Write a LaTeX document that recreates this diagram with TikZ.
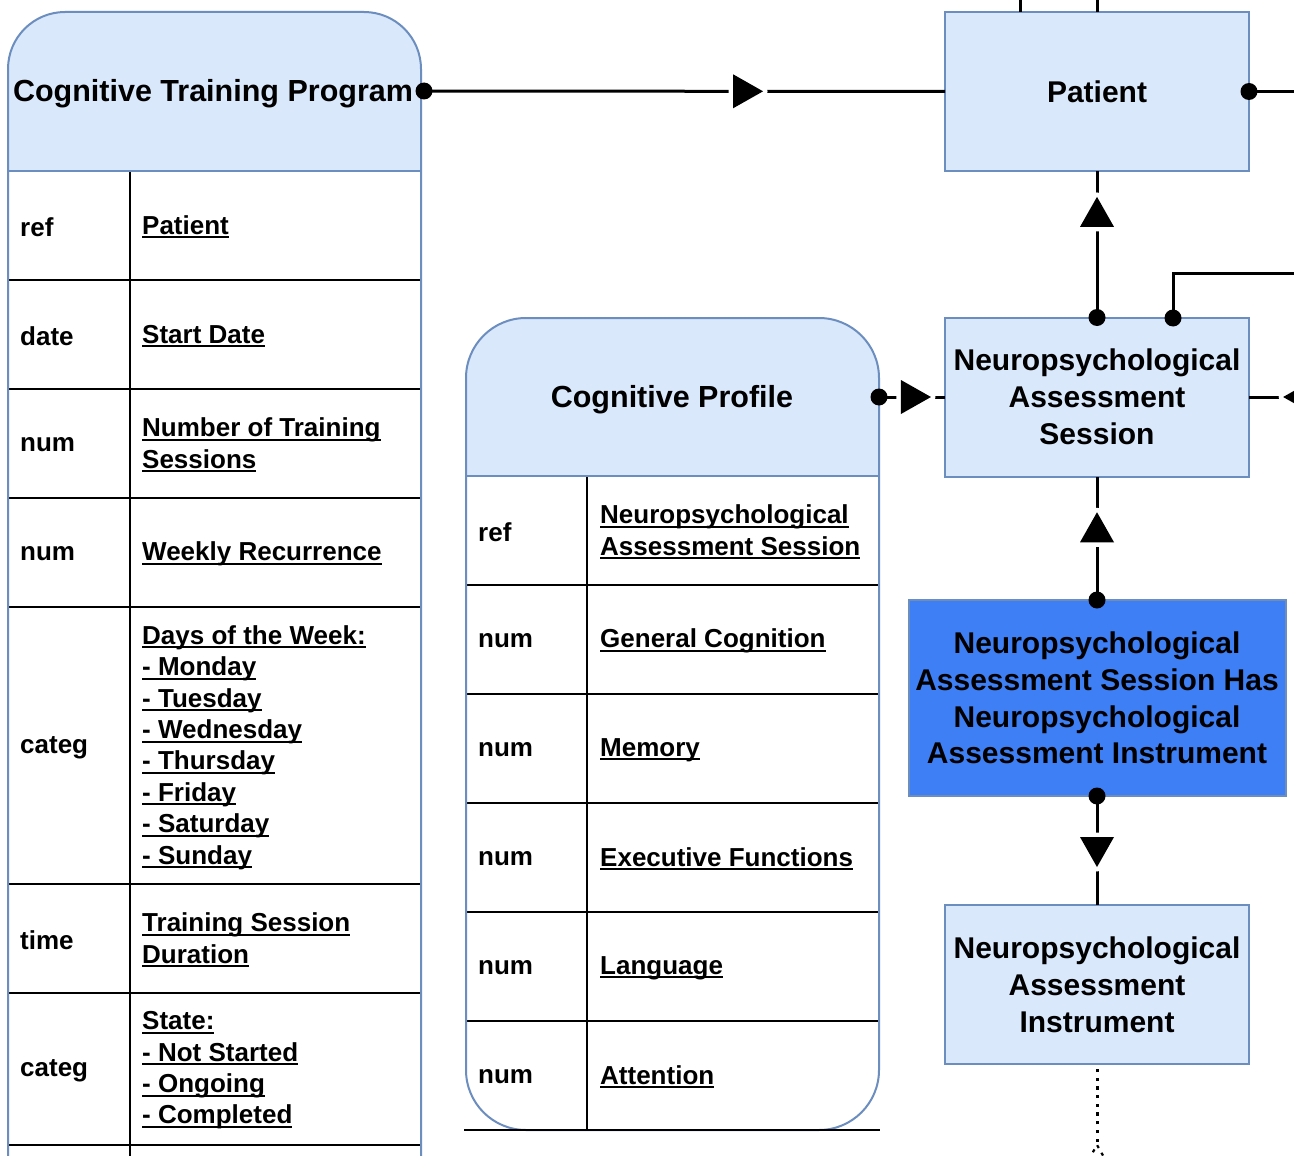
\documentclass[tikz,border=0pt]{standalone}
\usepackage{fontspec}
\setmainfont{Liberation Sans}
\usetikzlibrary{decorations.markings}
\definecolor{hdrfill}{HTML}{DAE8FC}
\definecolor{hdrline}{HTML}{6C8EBF}
\definecolor{bluefill}{HTML}{3E7FF5}
\newsavebox\ulbox
\newcommand{\ulx}[1]{\sbox\ulbox{#1}\rlap{\rule[-4pt]{\wd\ulbox}{2pt}}\usebox\ulbox}
\tikzset{
  ent/.style={draw=hdrline, fill=hdrfill, line width=2pt, inner sep=0pt, outer sep=0pt,
    minimum width=304pt, minimum height=159pt, align=center,
    font=\bfseries\fontsize{30}{36.8}\selectfont, text=black},
  ttl/.style={font=\bfseries\fontsize{30.5}{36.8}\selectfont, align=center, text=black, inner sep=0pt},
  keycell/.style={font=\bfseries\fontsize{26}{31.4}\selectfont, anchor=west, inner sep=0pt, text=black},
  valcell/.style={font=\bfseries\fontsize{26}{31.4}\selectfont, anchor=west, align=left, inner sep=0pt, text=black},
  tblline/.style={black, line width=1.6pt},
  border/.style={draw=hdrline, line width=2pt},
  conn/.style={black, line width=3pt},
  dotline/.style={black, line width=3pt, dash pattern=on 3.2pt off 5.5pt},
  tri/.style={postaction={decorate, decoration={markings, mark=at position #1 with {
     \draw[white, line width=9pt, line join=round] (-15,-17) -- (15,0) -- (-15,17) -- cycle;
     \fill[black] (-15,-17) -- (15,0) -- (-15,17) -- cycle;}}}},
  opentri/.style={postaction={decorate, decoration={markings, mark=at position #1 with {
     \draw[white, line width=8pt, line join=round] (-15,-17) -- (15,0) -- (-15,17) -- cycle;
     \draw[black, fill=white, line width=2.2pt] (-15,-17) -- (15,0) -- (-15,17) -- cycle;}}}},
}
\begin{document}
\begin{tikzpicture}[x=1pt, y=-1pt]
\useasboundingbox (0,0) rectangle (1294,1156);
\clip (0,0) rectangle (1294,1156);
\fill[white] (0,0) rectangle (1294,1156);

% ---------- Cognitive Training Program table ----------
\fill[white] (8,171) rectangle (421,1300);
\fill[hdrfill] (8,171) -- (8,69) arc[start angle=180, end angle=270, radius=57]
   -- (364,12) arc[start angle=270, end angle=360, radius=57] -- (421,171) -- cycle;
\foreach \yy in {280,389,498,607,884,993,1145} {\draw[tblline] (8,\yy) -- (421,\yy);}
\draw[tblline] (130,171) -- (130,1300);
\draw[border] (8,1300) -- (8,69) arc[start angle=180, end angle=270, radius=57]
   -- (364,12) arc[start angle=270, end angle=360, radius=57] -- (421,1300);
\draw[border] (8,171) -- (421,171);
\node[ttl] (ctp) at (213,93.5) {Cognitive Training Program};
\coordinate (ctpE) at (424,91);

\node[keycell] (ctpk1) at (20,227) {ref};
\node[valcell] (ctpv1) at (142,227) {\ulx{Patient}};
\node[keycell] (ctpk2) at (20,336) {date};
\node[valcell] (ctpv2) at (142,336) {\ulx{Start Date}};
\node[keycell] (ctpk3) at (20,445) {num};
\node[valcell] (ctpv3) at (142,445) {\ulx{Number of Training}\\\ulx{Sessions}};
\node[keycell] (ctpk4) at (20,554) {num};
\node[valcell] (ctpv4) at (142,554) {\ulx{Weekly Recurrence}};
\node[keycell] (ctpk5) at (20,747.5) {categ};
\node[valcell] (ctpv5) at (142,747.5) {\ulx{Days of the Week:}\\\ulx{- Monday}\\\ulx{- Tuesday}\\\ulx{- Wednesday}\\\ulx{- Thursday}\\\ulx{- Friday}\\\ulx{- Saturday}\\\ulx{- Sunday}};
\node[keycell] (ctpk6) at (20,940) {time};
\node[valcell] (ctpv6) at (142,940) {\ulx{Training Session}\\\ulx{Duration}};
\node[keycell] (ctpk7) at (20,1071) {categ};
\node[valcell] (ctpv7) at (142,1070.5) {\ulx{State:}\\\ulx{- Not Started}\\\ulx{- Ongoing}\\\ulx{- Completed}};

% ---------- Cognitive Profile table ----------
\fill[white, rounded corners=60] (466,318) rectangle (879,1130);
\fill[hdrfill] (466,476) -- (466,378) arc[start angle=180, end angle=270, radius=60]
   -- (819,318) arc[start angle=270, end angle=360, radius=60] -- (879,476) -- cycle;
\foreach \yy in {585,694,803,912,1021} {\draw[tblline] (466,\yy) -- (879,\yy);}
\draw[tblline] (587,476) -- (587,1130);
\draw[border, rounded corners=60] (466,318) rectangle (879,1130);
\draw[border] (466,476) -- (879,476);
\draw[tblline] (464,1130) -- (880,1130);
\node[ttl] (cp) at (672,399.5) {Cognitive Profile};
\coordinate (cpE) at (879,397);

\node[keycell] (cpk1) at (478,532) {ref};
\node[valcell] (cpv1) at (600,532) {\ulx{Neuropsychological}\\\ulx{Assessment Session}};
\node[keycell] (cpk2) at (478,641) {num};
\node[valcell] (cpv2) at (600,641) {\ulx{General Cognition}};
\node[keycell] (cpk3) at (478,750) {num};
\node[valcell] (cpv3) at (600,750) {\ulx{Memory}};
\node[keycell] (cpk4) at (478,859) {num};
\node[valcell] (cpv4) at (600,859) {\ulx{Executive Functions}};
\node[keycell] (cpk5) at (478,968) {num};
\node[valcell] (cpv5) at (600,968) {\ulx{Language}};
\node[keycell] (cpk6) at (478,1077) {num};
\node[valcell] (cpv6) at (600,1077) {\ulx{Attention}};

% ---------- entities ----------
\node[ent] (pat) at (1097,91.5) {Patient};
\node[ent] (nas) at (1097,397) {Neuropsychological\\Assessment\\Session};
\node[ent, fill=bluefill, minimum width=377pt, minimum height=196pt] (has) at (1097,698)
  {Neuropsychological\\Assessment Session Has\\Neuropsychological\\Assessment Instrument};
\node[ent] (nai) at (1097,984.5) {Neuropsychological\\Assessment\\Instrument};

% off-picture ends
\coordinate (offT1) at (1020,-40);
\coordinate (offT2) at (1097,-40);
\coordinate (offR1) at (1340,91.5);
\coordinate (offR2) at (1340,273);
\coordinate (offR3) at (1340,397);
\coordinate (offB) at (1097,1220);
\coordinate (nasT2) at (1173,318);

% ---------- connectors ----------
\draw[conn, tri=0.622] (ctpE) -- (pat.west);
\draw[conn] (offT1) -- (offT1 |- pat.north);
\draw[conn] (offT2) -- (pat.north);
\draw[conn] (pat.east) -- (offR1);
\draw[conn, tri=0.721] (nas.north) -- (pat.south);
\draw[conn] (nasT2) |- (offR2);
\draw[conn, tri=0.56] (cpE) -- (nas.west);
\draw[conn, tri=0.46] (offR3) -- (nas.east);
\draw[conn, tri=0.589] (has.north) -- (nas.south);
\draw[conn, tri=0.514] (has.south) -- (nai.north);
\draw[dotline, opentri=0.385] (offB) -- (nai.south);

% dots
\fill (ctpE) circle[radius=8.5];
\fill (pat.east) circle[radius=8.5];
\fill (nas.north) circle[radius=8.5];
\fill (nasT2) circle[radius=8.5];
\fill (cpE) circle[radius=8.5];
\fill (has.north) circle[radius=8.5];
\fill (has.south) circle[radius=8.5];
\end{tikzpicture}
\end{document}
